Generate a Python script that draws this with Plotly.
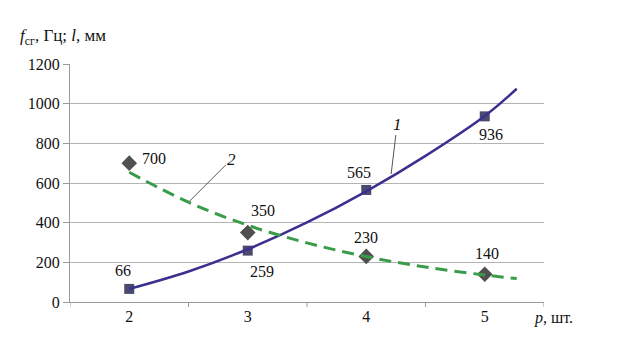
import plotly.graph_objects as go

# ---- data ----
categories = [2, 3, 4, 5]
freq_values = [66, 259, 565, 936]        # series 1 (squares)
len_values = [700, 350, 230, 140]        # series 2 (diamonds)

# trend curves
trend_x = [2, 2.5, 3, 3.5, 4, 4.5, 5, 5.27]
trend1_y = [66, 154, 266, 401, 558, 737, 938, 1075]
trend2_y = [654, 503, 387, 298, 229, 176, 136, 118]

y_ticks = [0, 200, 400, 600, 800, 1000, 1200]
boundaries = [1.5, 2.5, 3.5, 4.5, 5.5]

FONT = "Liberation Serif"
fig = go.Figure()

fig.add_trace(go.Scatter(x=categories, y=freq_values, mode="markers",
                         marker=dict(symbol="square", size=10, color="#4a4a6e"),
                         showlegend=False))
fig.add_trace(go.Scatter(x=categories, y=len_values, mode="markers",
                         marker=dict(symbol="diamond", size=12, color="#505050"),
                         showlegend=False))
fig.add_trace(go.Scatter(x=trend_x, y=trend1_y, mode="lines",
                         line=dict(color="#3b2f8f", width=2.5, shape="spline"),
                         showlegend=False))
fig.add_trace(go.Scatter(x=trend_x, y=trend2_y, mode="lines",
                         line=dict(color="#3a9c4a", width=3, shape="spline", dash="12px,7px"),
                         showlegend=False))

# data labels
offs1 = [(-6, -18), (14, 21), (-7, -17), (6, 18)]
offs2 = [(25, -5), (15, -22), (0, -19), (2, -21)]
for xs, ys, offs in ((categories, freq_values, offs1), (categories, len_values, offs2)):
    for xv, yv, (dx, dy) in zip(xs, ys, offs):
        fig.add_annotation(x=xv, y=yv, text=str(yv), showarrow=False,
                           xshift=dx, yshift=-dy,
                           font=dict(family=FONT, size=16, color="#111111"))

# curve labels with leader lines
fig.add_annotation(x=4.21, y=645, text="<i>1</i>", showarrow=True, arrowhead=0,
                   arrowwidth=1, arrowcolor="#555555", ax=6, ay=-50,
                   font=dict(family=FONT, size=17, color="#111111"))
fig.add_annotation(x=2.51, y=509, text="<i>2</i>", showarrow=True, arrowhead=0,
                   arrowwidth=1, arrowcolor="#555555", ax=42, ay=-42,
                   font=dict(family=FONT, size=17, color="#111111"))

# axis titles
fig.add_annotation(xref="paper", yref="paper", x=-0.11, y=1.113, xanchor="left", yanchor="middle",
                   text="<i>f</i><sub>сг</sub>, Гц; <i>l</i>, мм", showarrow=False,
                   font=dict(family=FONT, size=17, color="#111111"))
fig.add_annotation(xref="paper", yref="paper", x=0.975, y=-0.067, xanchor="left", yanchor="middle",
                   text="<i>p</i>, шт.", showarrow=False,
                   font=dict(family=FONT, size=16, color="#111111"))

# category boundary tick marks
for b in boundaries:
    fig.add_shape(type="line", xref="x", yref="paper", x0=b, x1=b, y0=0, y1=-0.021,
                  line=dict(color="#9a9a9a", width=1))

fig.update_layout(
    width=617, height=355,
    font=dict(family=FONT, size=16, color="#111111"),
    margin=dict(l=70, r=73, t=64, b=53),
    paper_bgcolor="white", plot_bgcolor="white",
    xaxis=dict(range=[1.5, 5.5], tickvals=categories, ticktext=[str(c) for c in categories],
               showgrid=False, zeroline=False,
               showline=True, linecolor="#9a9a9a", linewidth=1,
               tickfont=dict(family=FONT, size=16, color="#111111")),
    yaxis=dict(range=[0, 1200], tickvals=y_ticks, ticks="outside", ticklen=6,
               tickcolor="#9a9a9a", showgrid=True, gridcolor="#b4b4b4", gridwidth=1,
               zeroline=False, showline=True, linecolor="#9a9a9a", linewidth=1,
               tickfont=dict(family=FONT, size=16, color="#111111")),
)

fig.write_html("out.html")
